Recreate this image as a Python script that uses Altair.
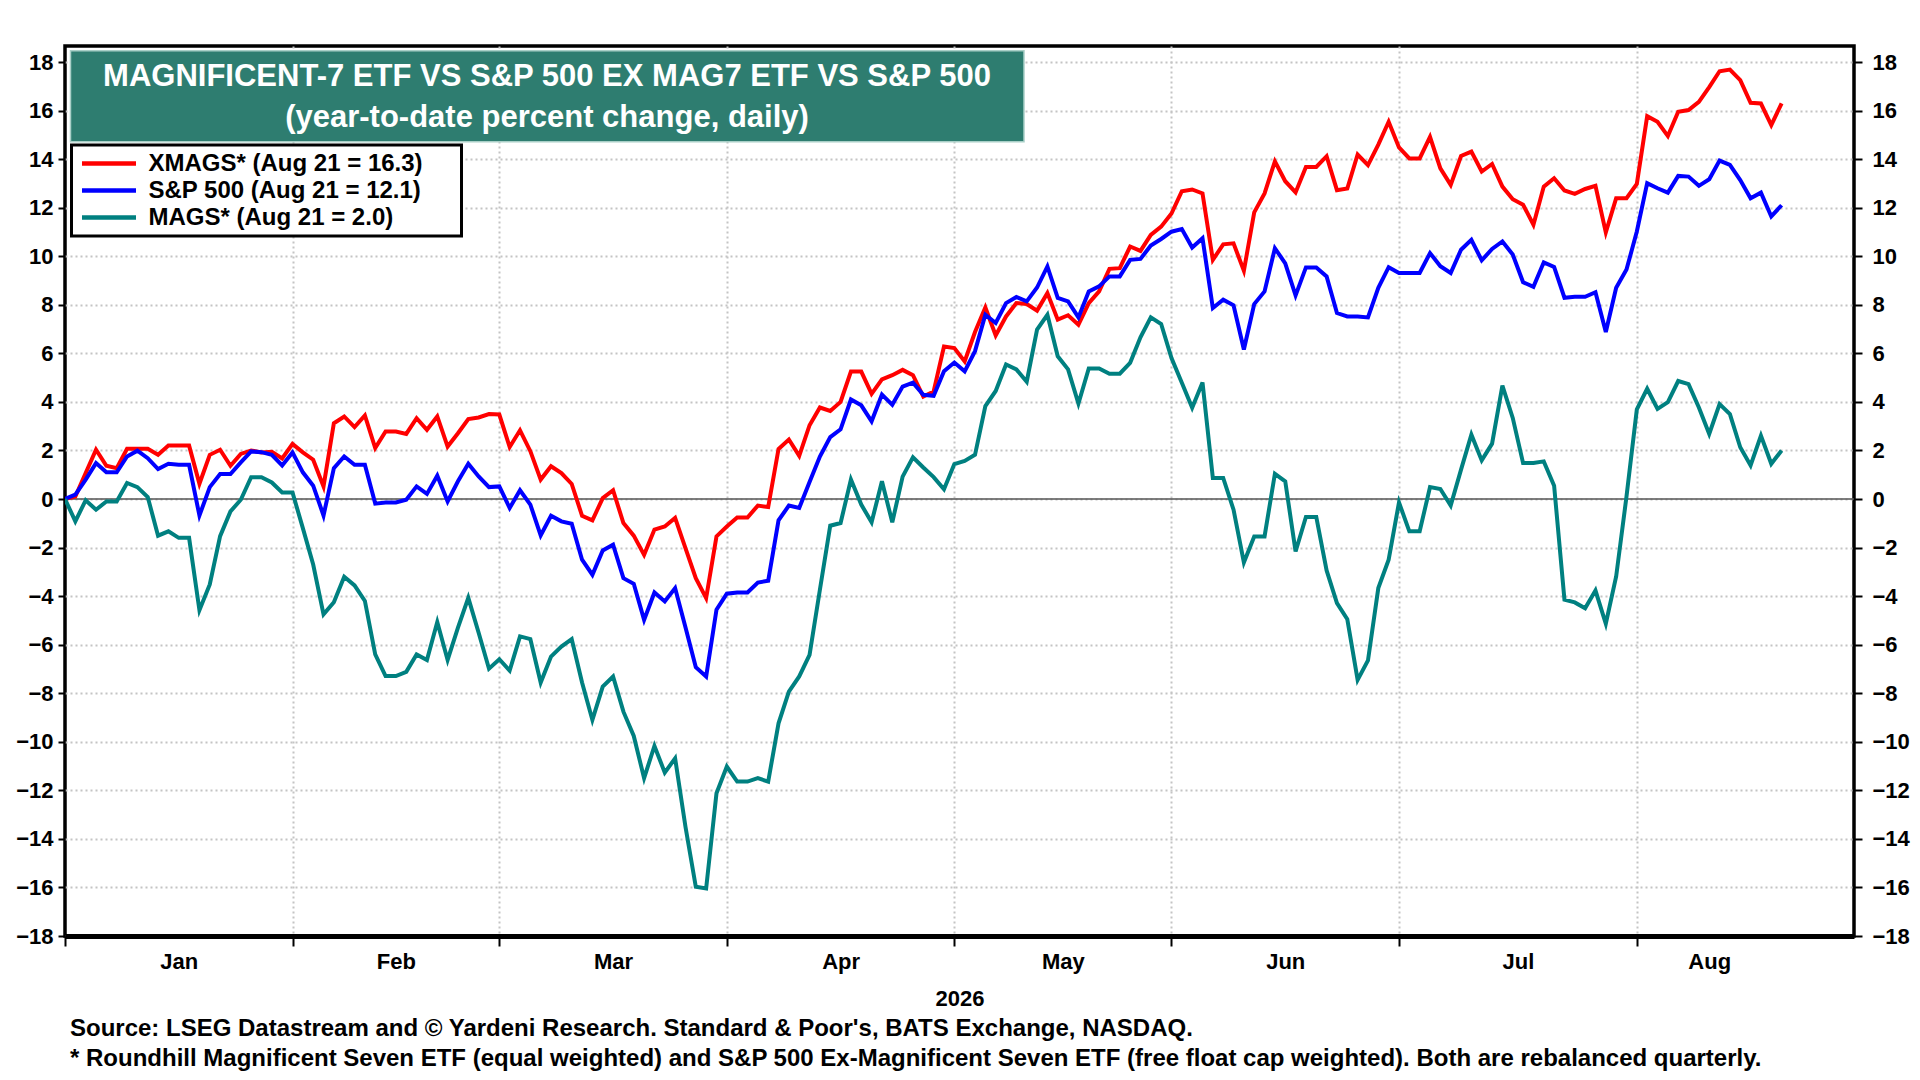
import json
import altair as alt
import pandas as pd

FONT = "Liberation Sans, Arial, sans-serif"

# ---- axis / category data ----
months = ["Jan", "Feb", "Mar", "Apr", "May", "Jun", "Jul", "Aug"]
month_start = [0, 22, 42, 64, 86, 107, 129, 152]      # weekday index of first weekday of each month
month_label_pos = [11, 32, 53, 75, 96.5, 118, 140.5, 159]
x_end = 173                                         # last weekday of August
y_ticks = list(range(-18, 19, 2))

series_names = ["XMAGS* (Aug 21 = 16.3)", "S&P 500 (Aug 21 = 12.1)", "MAGS* (Aug 21 = 2.0)"]
series_colors = ["#ff0000", "#0000ff", "#008080"]

title_lines = ["MAGNIFICENT-7 ETF VS S&P 500 EX MAG7 ETF VS S&P 500",
               "(year-to-date percent change, daily)"]
notes = ["Source: LSEG Datastream and \u00a9 Yardeni Research. Standard & Poor's, BATS Exchange, NASDAQ.",
         "* Roundhill Magnificent Seven ETF (equal weighted) and S&P 500 Ex-Magnificent Seven ETF (free float cap weighted). Both are rebalanced quarterly."]

# ---- series values (YTD % change, one per weekday from Jan 1, 2026) ----
xmags = [0, 0.1, 1.07, 2.03, 1.37, 1.27, 2.07, 2.07, 2.07, 1.82, 2.2, 2.2, 2.2, 0.63, 1.82, 2.03, 1.37, 1.86, 2.0, 1.92,
         1.95, 1.67, 2.27, 1.92, 1.62, 0.52, 3.12, 3.4, 2.96, 3.44, 2.1, 2.78, 2.78, 2.68, 3.33, 2.85, 3.4, 2.16, 2.71, 3.29,
         3.36, 3.5, 3.48, 2.14, 2.83, 1.97, 0.8, 1.35, 1.07, 0.62, -0.69, -0.88, 0.04, 0.36, -0.99, -1.51, -2.3, -1.26, -1.13, -0.78,
         -2.02, -3.26, -4.08, -1.54, -1.13, -0.76, -0.76, -0.27, -0.33, 2.06, 2.45, 1.78, 3.04, 3.77, 3.63, 4.0, 5.25, 5.25, 4.33, 4.93,
         5.1, 5.32, 5.1, 4.22, 4.43, 6.28, 6.22, 5.67, 6.88, 7.89, 6.74, 7.52, 8.07, 8.03, 7.76, 8.48, 7.39, 7.57, 7.18, 8.07,
         8.55, 9.48, 9.51, 10.4, 10.22, 10.88, 11.22, 11.76, 12.68, 12.75, 12.59, 9.85, 10.49, 10.53, 9.4, 11.81, 12.59, 13.91, 13.09, 12.63,
         13.68, 13.68, 14.12, 12.72, 12.79, 14.19, 13.75, 14.6, 15.54, 14.48, 14.03, 14.03, 14.92, 13.62, 12.94, 14.13, 14.31, 13.49, 13.8, 12.87,
         12.35, 12.12, 11.3, 12.87, 13.21, 12.71, 12.57, 12.77, 12.9, 10.98, 12.39, 12.39, 12.98, 15.77, 15.54, 14.95, 15.95, 16.02, 16.36, 16.97,
         17.62, 17.69, 17.25, 16.32, 16.29, 15.4, 16.3]

spx = [0, 0.18, 0.8, 1.48, 1.1, 1.1, 1.75, 1.99, 1.68, 1.23, 1.45, 1.41, 1.41, -0.68, 0.49, 1.03, 1.03, 1.51, 1.96, 1.93,
       1.82, 1.38, 1.92, 1.1, 0.55, -0.68, 1.27, 1.75, 1.41, 1.41, -0.19, -0.14, -0.14, -0.03, 0.52, 0.21, 0.96, -0.1, 0.73, 1.45,
       0.93, 0.49, 0.52, -0.37, 0.36, -0.23, -1.5, -0.69, -0.92, -1.02, -2.5, -3.12, -2.12, -1.88, -3.26, -3.49, -4.98, -3.85, -4.22, -3.67,
       -5.28, -6.93, -7.31, -4.56, -3.9, -3.85, -3.85, -3.44, -3.37, -0.88, -0.27, -0.37, 0.7, 1.75, 2.55, 2.87, 4.1, 3.86, 3.2, 4.3,
       3.88, 4.63, 4.79, 4.29, 4.25, 5.26, 5.62, 5.26, 6.09, 7.59, 7.25, 8.07, 8.32, 8.14, 8.71, 9.58, 8.28, 8.14, 7.48, 8.55,
       8.76, 9.17, 9.17, 9.85, 9.89, 10.44, 10.71, 11.01, 11.12, 10.36, 10.74, 7.87, 8.21, 7.98, 6.16, 8.03, 8.55, 10.33, 9.71, 8.39,
       9.54, 9.54, 9.17, 7.66, 7.52, 7.52, 7.48, 8.7, 9.55, 9.31, 9.31, 9.31, 10.13, 9.59, 9.31, 10.27, 10.68, 9.83, 10.3, 10.61,
       10.07, 8.93, 8.74, 9.75, 9.56, 8.29, 8.33, 8.33, 8.52, 6.88, 8.7, 9.45, 11.02, 13.01, 12.8, 12.62, 13.31, 13.28, 12.9, 13.17,
       13.94, 13.76, 13.14, 12.39, 12.62, 11.64, 12.1]

mags = [0, -0.92, -0.05, -0.44, -0.1, -0.1, 0.66, 0.49, 0.08, -1.51, -1.33, -1.6, -1.6, -4.58, -3.52, -1.53, -0.51, -0.03, 0.9, 0.9,
        0.68, 0.27, 0.27, -1.2, -2.7, -4.75, -4.25, -3.2, -3.56, -4.2, -6.4, -7.29, -7.29, -7.12, -6.4, -6.63, -5.07, -6.63, -5.3, -4.07,
        -5.51, -6.99, -6.6, -7.07, -5.66, -5.77, -7.56, -6.49, -6.08, -5.77, -7.56, -9.1, -7.73, -7.31, -8.76, -9.76, -11.5, -10.17, -11.27, -10.68,
        -13.5, -15.97, -16.04, -12.12, -11.02, -11.64, -11.64, -11.5, -11.64, -9.24, -7.93, -7.31, -6.42, -3.74, -1.1, -0.99, 0.8, -0.23, -0.96, 0.73,
        -0.96, 0.92, 1.72, 1.3, 0.9, 0.4, 1.44, 1.57, 1.82, 3.83, 4.45, 5.54, 5.34, 4.83, 6.98, 7.59, 5.88, 5.34, 3.93, 5.38,
        5.38, 5.16, 5.16, 5.61, 6.66, 7.48, 7.21, 5.81, 4.79, 3.76, 4.8, 0.87, 0.87, -0.44, -2.61, -1.54, -1.54, 1.04, 0.73, -2.16,
        -0.74, -0.74, -2.94, -4.29, -4.95, -7.45, -6.65, -3.67, -2.5, -0.14, -1.33, -1.33, 0.49, 0.41, -0.27, 1.21, 2.65, 1.59, 2.28, 4.67,
        3.34, 1.48, 1.48, 1.55, 0.55, -4.15, -4.26, -4.5, -3.77, -5.14, -3.19, 0.1, 3.69, 4.54, 3.71, 3.99, 4.86, 4.73, 3.77, 2.68,
        3.91, 3.5, 2.13, 1.38, 2.61, 1.45, 2.0]

# ---- long table ----
dates = pd.bdate_range("2026-01-01", periods=len(xmags))
rows = []
for name, vals in zip(series_names, [xmags, spx, mags]):
    for i, (d, v) in enumerate(zip(dates, vals)):
        rows.append({"day": i, "date": d.strftime("%Y-%m-%d"), "value": v, "series": name})
df = pd.DataFrame(rows)

y_scale = alt.Scale(domain=[-18, 18.66], nice=False, zero=False)
x_scale = alt.Scale(domain=[0, x_end], nice=False, zero=False)

start_test = "indexof(" + json.dumps(month_start) + ", datum.value) >= 0"
label_expr = ""
for m, p in zip(months, month_label_pos):
    label_expr += "datum.value == " + str(p) + " ? '" + m + "' : "
label_expr += "''"

x_axis = alt.Axis(
    values=month_start + month_label_pos,
    labelExpr=label_expr,
    labelOverlap=False, labelFlush=False, labelBound=False,
    labelFont=FONT, labelFontSize=22, labelFontWeight="bold", labelColor="black",
    labelPadding=5,
    tickSize=10, tickWidth=2, tickColor="black",
    tickOpacity={"condition": {"test": start_test, "value": 1}, "value": 0},
    grid=True, gridColor="#c4c4c4", gridDash=[2, 3], gridWidth=2,
    gridOpacity={"condition": {"test": start_test + " && datum.value > 0", "value": 1}, "value": 0},
    domain=True, domainColor="black", domainWidth=5,
    title="2026", titleFont=FONT, titleFontSize=22, titleFontWeight="bold", titleColor="black",
    titlePadding=16,
)

y_axis_left = alt.Axis(
    orient="left", values=y_ticks, title=None,
    labelFont=FONT, labelFontSize=22, labelFontWeight="bold", labelColor="black", labelPadding=5,
    tickSize=7, tickWidth=2, tickColor="black",
    grid=True, gridColor="#c4c4c4", gridDash=[2, 3], gridWidth=2,
    domain=False,
)
y_axis_right = alt.Axis(
    orient="right", values=y_ticks, title=None,
    labelFont=FONT, labelFontSize=22, labelFontWeight="bold", labelColor="black", labelPadding=10,
    tickSize=8, tickWidth=2, tickColor="black",
    grid=False, domain=False,
)

zero_line = alt.Chart(pd.DataFrame({"zero": [0]})).mark_rule(color="#555555", strokeWidth=1.5).encode(
    y=alt.Y("zero:Q", scale=y_scale, axis=y_axis_right)
)

# trailing no-break spaces widen the legend box; a zero-width char keeps them from being trimmed
pad = "\u00a0" * 5 + "\u200b"
lines = alt.Chart(df).mark_line(strokeWidth=4, clip=True).encode(
    x=alt.X("day:Q", scale=x_scale, axis=x_axis),
    y=alt.Y("value:Q", scale=y_scale, axis=y_axis_left),
    color=alt.Color(
        "series:N",
        scale=alt.Scale(domain=series_names, range=series_colors),
        legend=alt.Legend(
            orient="none", legendX=6.5, legendY=99, title=None,
            strokeColor="black", fillColor="white", padding=5,
            symbolType="stroke", symbolSize=2916, symbolStrokeWidth=4.5, symbolOffset=3,
            clipHeight=27, rowPadding=0,
            labelFont=FONT, labelFontSize=24, labelFontWeight="bold", labelColor="black",
            labelOffset=10, labelLimit=0,
            labelExpr="datum.label + '" + pad + "'",
        ),
    ),
)

title_box = alt.Chart(pd.DataFrame({"t": [0]})).mark_rect(
    color="#2e7d70", stroke="#a9cfc7", strokeWidth=1.5
).encode(
    x=alt.value(5.5), x2=alt.value(959), y=alt.value(4.7), y2=alt.value(95.7)
)

title_text = alt.Chart(pd.DataFrame({"t": [0]})).mark_text(
    font=FONT, fontSize=31, fontWeight="bold", color="white", align="center",
    baseline="alphabetic", lineHeight=41,
).encode(
    x=alt.value(482), y=alt.value(40), text=alt.value(title_lines)
)

chart = alt.layer(zero_line, lines, title_box, title_text).resolve_axis(
    y="independent"
).properties(
    width=1789, height=890,
    background="white",
    autosize=alt.AutoSizeParams(type="none"),
    padding={"left": 57, "top": 38, "right": 58, "bottom": 136},
    title=alt.TitleParams(
        text=notes, orient="bottom", anchor="start", frame="group",
        font=FONT, fontSize=24, fontWeight="bold", color="black",
        lineHeight=30, offset=8, dx=5,
    ),
).configure_view(
    stroke="black", strokeWidth=3.5
).configure_legend(
    strokeWidth=3
)

chart.save("out.html", embed_options={"renderer": "svg", "actions": False})
